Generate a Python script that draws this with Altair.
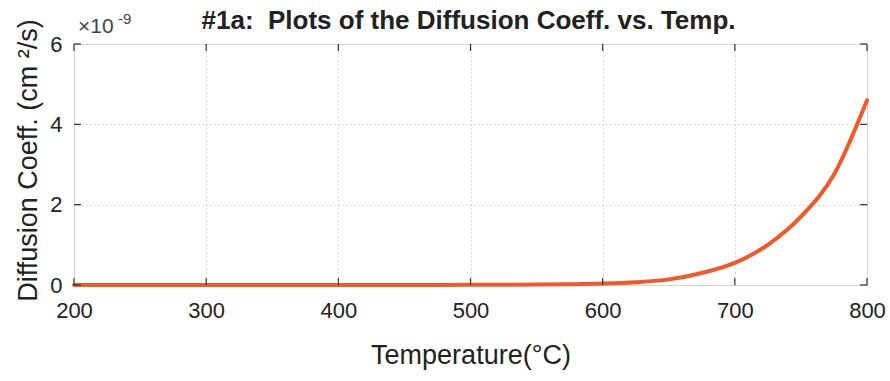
import altair as alt
import pandas as pd

# Temperature (deg C) and diffusion coefficient (units of 1e-9 cm^2/s)
temps = [200, 225, 250, 275, 300, 325, 350, 375, 400, 425, 450, 475, 500,
         525, 550, 575, 600, 625, 650, 675, 700, 725, 750, 775, 800]
diff = [0.0, 0.0, 0.0, 0.0, 0.0, 0.0, 0.0, 0.0, 0.0, 0.0, 0.001, 0.002, 0.004,
        0.007, 0.012, 0.02, 0.035, 0.07, 0.14, 0.3, 0.55, 1.0, 1.7, 2.75, 4.6]
x_ticks = [200, 300, 400, 500, 600, 700, 800]
y_ticks = [0, 2, 4, 6]
title_text = "#1a:\u00a0 Plots of the Diffusion Coeff. vs. Temp."

W, H = 793, 241
FONT = "Liberation Sans"

df = pd.DataFrame({"T": temps, "D": diff})
xt = pd.DataFrame({"T": x_ticks})
yt = pd.DataFrame({"D": y_ticks})

xscale = alt.Scale(domain=[200, 800], nice=False, zero=False)
yscale = alt.Scale(domain=[0, 6], nice=False)

line = alt.Chart(df).mark_line(color="#F2592A", strokeWidth=4, strokeCap="round",
                               interpolate="monotone").encode(
    x=alt.X("T:Q", scale=xscale,
            axis=alt.Axis(values=x_ticks, title="Temperature(°C)", labelFontSize=22,
                          labelPadding=15, tickSize=0, domain=False, labelFlush=False,
                          grid=True, gridDash=[1, 3], gridColor="#bbbbbb",
                          labelColor="#222", titleColor="#222", titleFontSize=27,
                          titleFontWeight="normal", labelFont=FONT, titleFont=FONT,
                          titleX=W / 2, titleY=70, titleBaseline="middle")),
    y=alt.Y("D:Q", scale=yscale,
            axis=alt.Axis(values=y_ticks, title="Diffusion Coeff. (cm ²/s)", labelFontSize=22,
                          labelPadding=12, tickSize=0, domain=False, labelFlush=False,
                          grid=True, gridDash=[1, 3], gridColor="#bbbbbb",
                          labelColor="#222", titleColor="#222", titleFontSize=27,
                          titleFontWeight="normal", labelFont=FONT, titleFont=FONT,
                          titleX=-46, titleY=116, titleBaseline="middle")),
)

tick_len = 7
xb = alt.Chart(xt).mark_rule(color="#333", strokeWidth=1.2).encode(
    x=alt.X("T:Q", scale=xscale), y=alt.value(H), y2=alt.value(H - tick_len))
xtop = alt.Chart(xt).mark_rule(color="#333", strokeWidth=1.2).encode(
    x=alt.X("T:Q", scale=xscale), y=alt.value(0), y2=alt.value(tick_len))
yl = alt.Chart(yt).mark_rule(color="#333", strokeWidth=1.2).encode(
    y=alt.Y("D:Q", scale=yscale), x=alt.value(0), x2=alt.value(tick_len))
yr = alt.Chart(yt).mark_rule(color="#333", strokeWidth=1.2).encode(
    y=alt.Y("D:Q", scale=yscale), x=alt.value(W), x2=alt.value(W - tick_len))

exp_base = alt.Chart(pd.DataFrame({"t": ["×10"]})).mark_text(
    fontSize=21, font=FONT, color="#444", align="left", baseline="alphabetic"
).encode(text="t:N", x=alt.value(4), y=alt.value(-11))
exp_pow = alt.Chart(pd.DataFrame({"t": ["-9"]})).mark_text(
    fontSize=15, font=FONT, color="#444", align="left", baseline="alphabetic"
).encode(text="t:N", x=alt.value(44), y=alt.value(-20))

title = alt.Chart(pd.DataFrame({"t": [title_text]})).mark_text(
    fontSize=26, font=FONT, fontWeight="bold", color="#222", align="center",
    baseline="alphabetic"
).encode(text="t:N", x=alt.value(W / 2 - 2), y=alt.value(-15))

chart = alt.layer(line, xb, xtop, yl, yr, exp_base, exp_pow, title).properties(
    width=W, height=H,
    autosize=alt.AutoSizeParams(type="none"),
    padding={"left": 74, "top": 44, "right": 23, "bottom": 96},
).configure_view(stroke="#333", strokeWidth=1.2).configure(background="white")

chart.save("out.html", embed_options={"renderer": "svg", "actions": False})
